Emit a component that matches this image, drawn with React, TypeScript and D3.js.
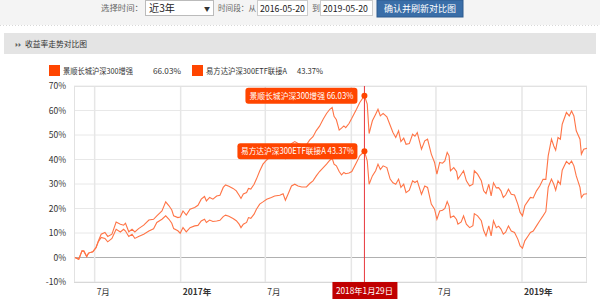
import React from "react";
import * as d3 from "d3";

const fundNames = ["景顺长城沪深300增强", "易方达沪深300ETF联接A"];
const hoverValues = [66.03, 43.37];
const hoverDate = "2018-01-29";
const hoverDateLabel = "2018年1月29日";

const dates = [
  "2016-05-20","2016-05-28","2016-06-04","2016-06-08","2016-06-14","2016-06-18","2016-06-27","2016-07-04","2016-07-09","2016-07-15",
  "2016-07-23","2016-07-29","2016-08-07","2016-08-16","2016-08-25","2016-09-01","2016-09-05","2016-09-12","2016-09-19","2016-09-25",
  "2016-10-03","2016-10-14","2016-10-25","2016-11-04","2016-11-11","2016-11-22","2016-11-30","2016-12-07","2016-12-13","2016-12-17",
  "2016-12-26","2016-12-31","2017-01-06","2017-01-13","2017-01-21","2017-01-31","2017-02-07","2017-02-14","2017-02-21","2017-02-25",
  "2017-03-04","2017-03-11","2017-03-19","2017-03-26","2017-04-02","2017-04-07","2017-04-14","2017-04-23","2017-04-30","2017-05-06",
  "2017-05-10","2017-05-15","2017-05-22","2017-05-26","2017-05-31","2017-06-07","2017-06-12","2017-06-19","2017-06-26","2017-07-04",
  "2017-07-14","2017-07-21","2017-08-01","2017-08-08","2017-08-13","2017-08-19","2017-08-26","2017-09-02","2017-09-09","2017-09-17",
  "2017-09-27","2017-10-04","2017-10-11","2017-10-18","2017-10-25","2017-11-02","2017-11-09","2017-11-16","2017-11-21","2017-11-25",
  "2017-11-30","2017-12-06","2017-12-11","2017-12-16","2017-12-20","2017-12-27","2018-01-02","2018-01-12","2018-01-19","2018-01-29",
  "2018-02-04","2018-02-08","2018-02-15","2018-02-22","2018-02-27","2018-03-04","2018-03-10","2018-03-18","2018-03-25","2018-03-31",
  "2018-04-06","2018-04-12","2018-04-17","2018-04-23","2018-04-28","2018-05-05","2018-05-12","2018-05-17","2018-05-22","2018-05-31",
  "2018-06-07","2018-06-13","2018-06-21","2018-06-28","2018-07-03","2018-07-09","2018-07-15","2018-07-20","2018-07-25","2018-07-29",
  "2018-08-01","2018-08-08","2018-08-14","2018-08-17","2018-08-24","2018-08-29","2018-09-04","2018-09-11","2018-09-18","2018-09-21",
  "2018-09-28","2018-10-06","2018-10-11","2018-10-16","2018-10-22","2018-10-27","2018-11-01","2018-11-07","2018-11-12","2018-11-17",
  "2018-11-22","2018-11-27","2018-12-03","2018-12-09","2018-12-16","2018-12-23","2018-12-28","2019-01-02","2019-01-07","2019-01-14",
  "2019-01-19","2019-01-25","2019-02-01","2019-02-08","2019-02-15","2019-02-21","2019-02-26","2019-03-05","2019-03-10","2019-03-14",
  "2019-03-19","2019-03-24","2019-03-28","2019-04-06","2019-04-12","2019-04-17","2019-04-22","2019-04-27","2019-05-05","2019-05-08",
  "2019-05-13","2019-05-20"
];

const fund1 = [
  0,-0.7,2.7,2.7,0.4,1.8,2.3,4.1,6.8,9.5,
  10.2,8.6,9.5,14.5,13.6,13.2,14.0,10.5,11.5,10.4,
  11.8,13.2,15.3,15.6,17.0,19.0,22.7,21.1,19.4,17.0,
  16.3,16.5,19.0,17.3,19.7,20.4,21.3,23.8,24.9,23.1,
  24.5,23.8,25.1,25.4,28.6,29.6,29.1,28.2,27.2,25.4,
  24.1,25.9,26.5,28.2,27.9,29.9,32.0,35.3,38.1,39.8,
  41.5,42.2,42.5,43.0,40.5,43.0,46.5,47.3,46.5,46.0,
  46.0,48.0,49.3,51.8,53.6,56.5,58.8,60.5,61.2,57.6,
  56.2,52.0,52.8,53.7,53.0,54.7,56.8,60.5,63.3,66.03,
  62.6,50.6,55.8,58.5,60.5,57.8,58.8,57.4,54.0,51.0,
  49.0,51.7,47.3,48.7,46.2,46.5,50.3,49.5,51.0,44.2,
  47.6,48.3,42.2,38.8,34.0,38.8,38.5,39.4,42.9,41.5,
  35.4,36.7,35.1,32.0,34.0,35.4,31.3,29.2,29.9,35.4,
  34.0,31.3,27.2,26.1,29.9,25.1,30.5,28.4,28.5,27.2,
  24.5,25.5,27.9,25.8,25.5,21.8,18.4,17.0,21.1,23.1,
  24.5,24.3,27.2,29.2,31.9,31.9,41.5,48.3,45.5,43.8,
  49.0,48.3,54.4,59.2,57.8,59.8,57.8,51.7,48.3,42.2,
  44.2,44.6
];

const fund2 = [
  0,-0.7,2.7,2.5,0.4,1.8,2.3,4.0,6.5,8.2,
  7.8,6.4,7.8,11.5,10.4,11.5,10.8,8.6,9.5,7.8,
  8.6,9.5,10.8,11.7,14.3,15.6,17.0,15.6,14.0,11.8,
  10.9,9.9,12.2,10.5,12.2,12.9,13.1,14.9,15.6,14.3,
  15.3,14.7,14.9,15.2,16.7,17.3,16.8,15.9,15.0,13.6,
  12.2,13.6,14.3,16.3,16.0,17.7,19.7,21.8,22.7,23.8,
  24.5,25.1,25.4,26.0,23.4,26.0,29.2,29.9,29.2,28.8,
  28.8,30.2,31.3,33.3,35.1,36.7,38.1,39.7,40.5,38.1,
  37.4,35.1,33.7,34.7,34.2,34.5,35.1,38.8,41.5,43.37,
  39.4,29.9,33.3,35.4,38.1,35.9,37.4,36.7,32.0,30.5,
  29.9,32.0,28.6,29.9,26.5,27.5,31.3,30.6,31.3,25.8,
  29.2,28.6,21.8,19.7,15.6,19.0,19.3,20.0,22.8,21.0,
  16.3,17.0,15.5,13.6,14.5,17.0,13.6,12.2,13.0,17.9,
  17.0,15.0,11.0,8.8,12.9,8.8,15.0,12.2,12.8,11.6,
  9.5,10.3,12.9,10.8,10.2,7.5,4.7,3.8,6.8,8.8,
  10.2,10.8,12.9,15.0,17.0,18.8,28.6,32.0,29.9,27.5,
  31.3,29.9,35.6,39.2,38.1,39.4,37.4,33.3,28.6,24.5,
  25.8,26.0
];

const yTicks = [-10, 0, 10, 20, 30, 40, 50, 60, 70];
const xTickDates = ["2016-07-01", "2017-01-01", "2017-07-01", "2018-01-01", "2018-07-01", "2019-01-01"];
const xTickLabels = ["7月", "2017年", "7月", "2018年", "7月", "2019年"];
const xTickBold = [false, true, false, true, false, true];

const parse = d3.timeParse("%Y-%m-%d");
const FONT = "'Noto Sans CJK SC', 'Noto Sans', sans-serif";

type TxtProps = { x: number; y: number; w?: number; size?: number; fill?: string; anchor?: string; weight?: string; children: React.ReactNode };
function Txt({ x, y, w, size = 8, fill = "#333", anchor = "start", weight = "normal", children }: TxtProps) {
  const extra: any = w ? { textLength: w, lengthAdjust: "spacingAndGlyphs" } : {};
  return (
    <text x={x} y={y} fontSize={size} fill={fill} textAnchor={anchor} fontWeight={weight} {...extra}>{children}</text>
  );
}

export default function App() {
  const left = 74, right = 587, top = 86, bottom = 282;
  const x = d3.scaleTime()
    .domain([parse("2016-05-20") as Date, parse("2019-05-20") as Date])
    .range([75, 587]);
  const y = d3.scaleLinear().domain([-10, 70]).range([bottom, top]);

  const series = [fund1, fund2].map((vals) =>
    dates.map((d, i) => ({ date: parse(d) as Date, v: vals[i] }))
  );
  const line = d3.line<{ date: Date; v: number }>()
    .x((d) => x(d.date))
    .y((d) => y(d.v))
    .curve(d3.curveLinear);

  const hx = x(parse(hoverDate) as Date);
  const labelTexts = fundNames.map((n, i) => `${n} ${hoverValues[i].toFixed(2)}%`);
  const labelWidths = [112, 120];
  const labelTextWidths = [104, 113];

  const lineColor = "#ff7446";
  const markColor = "#ff4500";

  return (
    <svg width={600} height={305} style={{ position: "absolute", left: 0, top: 0, fontFamily: FONT }}>
      <rect x={0} y={0} width={600} height={305} fill="#ffffff" />
      {/* top control band */}
      <rect x={0} y={0} width={600} height={25} fill="#f4f4f4" />
      <line x1={0} x2={600} y1={25.5} y2={25.5} stroke="#d8d8d8" strokeDasharray="1,2" />
      <Txt x={101} y={11} w={42} fill="#666">选择时间：</Txt>
      <rect x={145.5} y={0.5} width={68} height={15} fill="#fff" stroke="#bbb" />
      <Txt x={149} y={12} size={10} w={26} fill="#222">近3年</Txt>
      <Txt x={204} y={11} size={6} fill="#333">▼</Txt>
      <Txt x={218} y={11} w={38} fill="#666">时间段：从</Txt>
      <rect x={257.5} y={0.5} width={50} height={15} fill="#fff" stroke="#ccc" />
      <Txt x={260} y={12} size={9} w={45} fill="#222">2016-05-20</Txt>
      <Txt x={312} y={11} fill="#666">到</Txt>
      <rect x={320.5} y={0.5} width={52} height={15} fill="#fff" stroke="#ccc" />
      <Txt x={323} y={12} size={9} w={45} fill="#222">2019-05-20</Txt>
      <rect x={377} y={0} width={86} height={17} fill="#3a6ea8" stroke="#2c5a8e" />
      <Txt x={420} y={12} size={9} w={72} fill="#fff" anchor="middle">确认并刷新对比图</Txt>

      {/* header bar */}
      <rect x={4} y={33} width={592} height={21} fill="#e4e4e4" />
      <Txt x={15} y={46.5} size={6} fill="#666">⏵⏵</Txt>
      <Txt x={25} y={47} w={62} fill="#333">收益率走势对比图</Txt>

      {/* legend */}
      <rect x={49} y={65} width={11} height={11} fill={markColor} />
      <Txt x={63} y={74} w={70} fill="#333">{fundNames[0]}</Txt>
      <Txt x={153} y={74} w={28} fill="#333">{hoverValues[0].toFixed(2) + "%"}</Txt>
      <rect x={192} y={65} width={11} height={11} fill={markColor} />
      <Txt x={206} y={74} w={81} fill="#333">{fundNames[1]}</Txt>
      <Txt x={297} y={74} w={26} fill="#333">{hoverValues[1].toFixed(2) + "%"}</Txt>

      {/* grid */}
      {yTicks.map((t) => (
        <g key={t}>
          <line x1={left} x2={right} y1={y(t)} y2={y(t)}
            stroke={t === 0 ? "#b0b0b0" : "#e8e8e8"} strokeWidth={1} />
          <Txt x={66} y={y(t) + 3} size={8.5} fill="#333" anchor="end">{t + "%"}</Txt>
        </g>
      ))}
      {xTickDates.map((d, i) => {
        const xx = x(parse(d) as Date);
        return (
          <g key={d}>
            <line x1={xx} x2={xx} y1={top} y2={bottom} stroke="#e6e6e6" strokeWidth={1.5} />
            <Txt x={xx + 2} y={295} size={8.5} fill="#333"
              weight={xTickBold[i] ? "bold" : "normal"}>{xTickLabels[i]}</Txt>
          </g>
        );
      })}
      <rect x={left + 0.5} y={top + 0.5} width={right - left - 1} height={bottom - top} fill="none" stroke="#e2e2e2" />
      <line x1={left} x2={right} y1={bottom + 0.5} y2={bottom + 0.5} stroke="#d8d8d8" />

      {/* lines */}
      {series.map((s, i) => (
        <path key={i} d={line(s) || ""} fill="none" stroke={lineColor} strokeWidth={1.1} />
      ))}

      {/* crosshair */}
      <line x1={hx} x2={hx} y1={top} y2={bottom} stroke="#e8383d" strokeWidth={1} />
      {hoverValues.map((v, i) => {
        const py = y(v);
        const w = labelWidths[i];
        return (
          <g key={i}>
            <circle cx={hx} cy={py} r={3} fill={markColor} />
            <rect x={hx - 7 - w} y={py - 8} width={w} height={16} rx={3} fill={markColor} />
            <Txt x={hx - 7 - w / 2} y={py + 3} size={8.5} w={labelTextWidths[i]} fill="#fff" anchor="middle">{labelTexts[i]}</Txt>
          </g>
        );
      })}
      <rect x={hx - 32} y={282} width={65} height={17} fill="#c00000" />
      <Txt x={hx} y={294} size={8.5} w={57} fill="#fff" anchor="middle">{hoverDateLabel}</Txt>
    </svg>
  );
}
